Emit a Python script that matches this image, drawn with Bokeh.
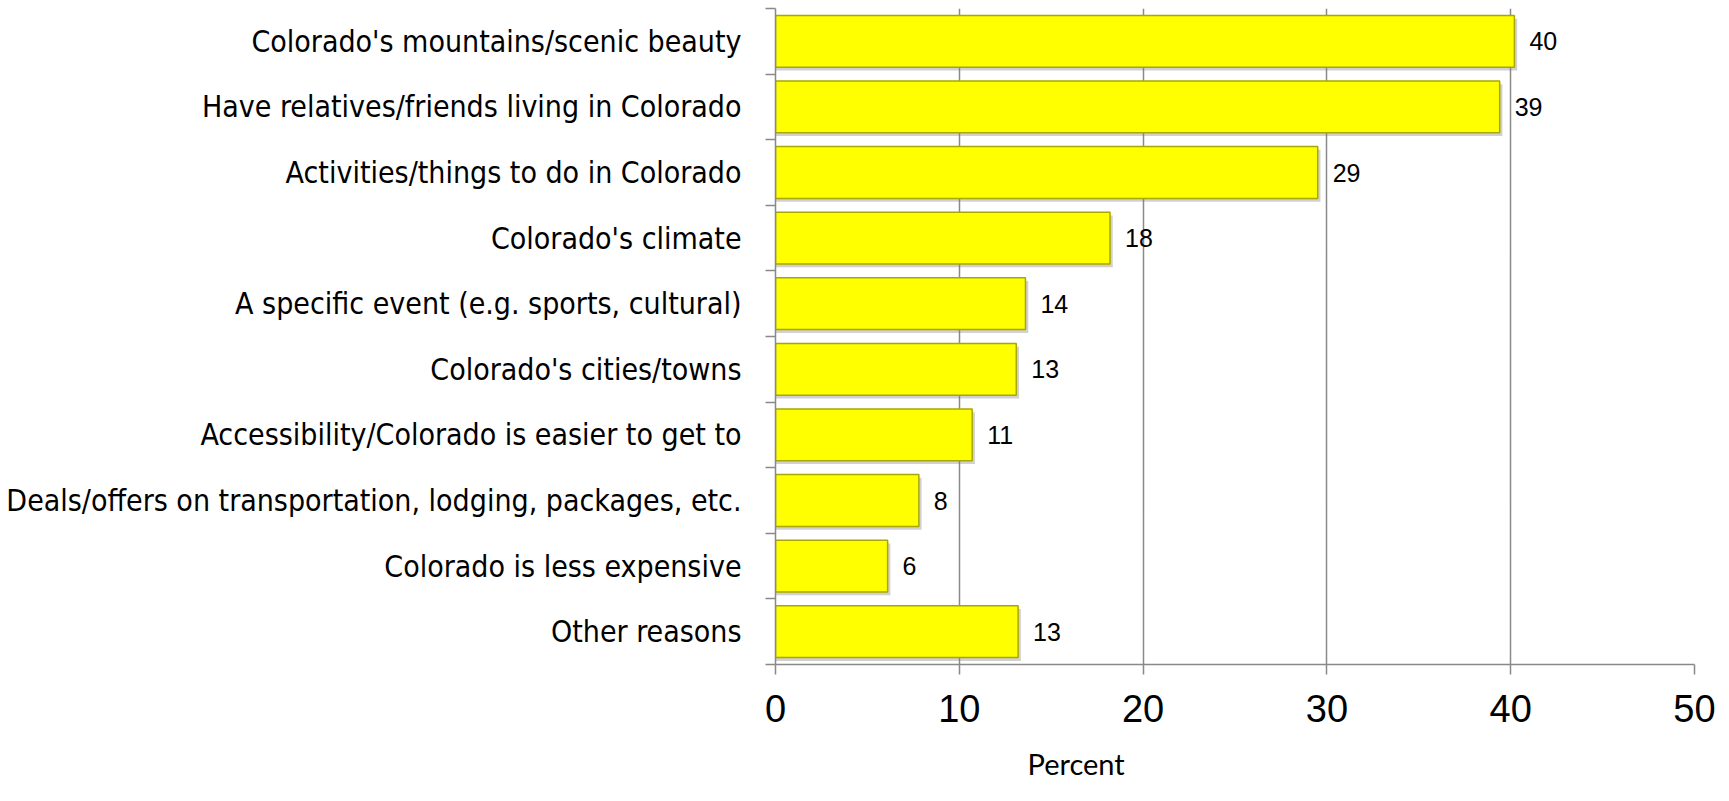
from bokeh.plotting import figure
from bokeh.models import FixedTicker, Range1d, ColumnDataSource, LabelSet, Title
from bokeh.core.properties import value
from bokeh.transform import dodge
from bokeh.embed import file_html
from bokeh.resources import INLINE

categories = [
    "Colorado's mountains/scenic beauty",
    "Have relatives/friends living in Colorado",
    "Activities/things to do in Colorado",
    "Colorado's climate",
    "A specific event (e.g. sports, cultural)",
    "Colorado's cities/towns",
    "Accessibility/Colorado is easier to get to",
    "Deals/offers on transportation, lodging, packages, etc.",
    "Colorado is less expensive",
    "Other reasons",
]
values = [40.2, 39.4, 29.5, 18.2, 13.6, 13.1, 10.7, 7.8, 6.1, 13.2]
value_labels = ["40", "39", "29", "18", "14", "13", "11", "8", "6", "13"]
x_ticks = [0, 10, 20, 30, 40, 50]
axis_title = "Percent"

n = len(categories)
centers = [n - 1 - i + 0.5 for i in range(n)]
boundaries = list(range(n + 1))

src = ColumnDataSource(dict(cat=categories, val=values, lab=value_labels, y=centers))

GRAY = "#898989"

p = figure(width=1729, height=801, output_backend="svg", toolbar_location=None,
           x_range=Range1d(0, 50), y_range=Range1d(0, n),
           min_border_left=775, min_border_right=35, min_border_top=8, min_border_bottom=137)
p.outline_line_color = None
p.background_fill_color = "white"
p.border_fill_color = "white"

# soft shadow under each bar
p.hbar(y=dodge("y", -0.05, range=p.y_range), right=dodge("val", 0.15, range=p.x_range),
       left=0, height=0.79, source=src,
       fill_color="#7a7a7a", fill_alpha=0.35, line_color=None)

p.hbar(y="y", right="val", left=0, height=0.79, source=src,
       fill_color="#FFFF00", line_color="#A8A800", line_width=1.5)

labels = LabelSet(x="val", y="y", text="lab", source=src, x_offset=15,
                  text_baseline="middle", text_align="left",
                  text_font=value("Liberation Sans"), text_font_size="25px",
                  text_color="#000000")
p.add_layout(labels)

# x axis
xa = p.xaxis[0]
xa.ticker = FixedTicker(ticks=x_ticks, minor_ticks=[])
xa.axis_line_color = GRAY
xa.axis_line_width = 1.5
xa.major_tick_line_color = GRAY
xa.major_tick_line_width = 1.5
xa.major_tick_out = 10
xa.major_tick_in = 0
xa.minor_tick_line_color = None
xa.major_label_text_font = "Liberation Sans"
xa.major_label_text_font_size = "38px"
xa.major_label_text_color = "#000000"
xa.major_label_standoff = 20

# y axis
ya = p.yaxis[0]
ya.ticker = FixedTicker(ticks=centers, minor_ticks=boundaries)
ya.major_label_overrides = {c: cat for c, cat in zip(centers, categories)}
ya.axis_line_color = GRAY
ya.axis_line_width = 1.5
ya.major_tick_line_color = None
ya.major_tick_out = 0
ya.major_tick_in = 0
ya.minor_tick_line_color = GRAY
ya.minor_tick_line_width = 1.5
ya.minor_tick_out = 10
ya.minor_tick_in = 0
ya.major_label_text_font = "DejaVu Sans Condensed"
ya.major_label_text_font_size = "30px"
ya.major_label_text_color = "#000000"
ya.major_label_standoff = 24

p.xgrid.grid_line_color = GRAY
p.xgrid.grid_line_width = 1.5
p.ygrid.grid_line_color = None

p.add_layout(Title(text=axis_title, align="left", offset=252, standoff=39,
                   vertical_align="bottom",
                   text_font="Lato", text_font_size="29px", text_font_style="normal",
                   text_color="#000000"), "below")

open("out.html", "w").write(file_html(p, INLINE))
